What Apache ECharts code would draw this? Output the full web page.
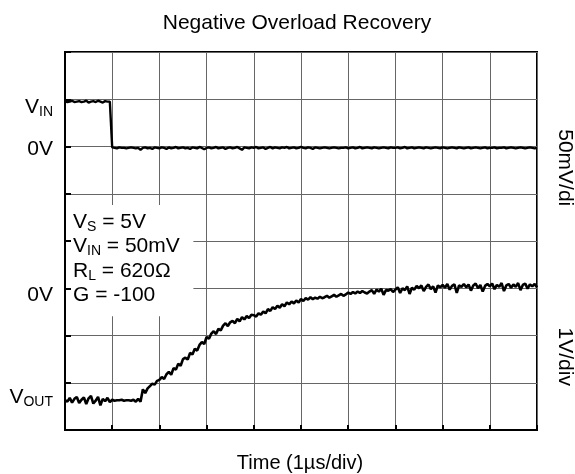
<!DOCTYPE html>
<html><head><meta charset="utf-8">
<script src="https://cdn.jsdelivr.net/npm/echarts@6/dist/echarts.min.js"></script>
<style>html,body{margin:0;padding:0;background:#fff}#c{width:575px;height:474px}</style>
</head><body><div id="c"></div>
<script>
// ---- data (units: scope divisions) ----
const titleText = 'Negative Overload Recovery';
const xAxisTitle = 'Time (1µs/div)';
const sampleStepDiv = 0.05;          // scope sample interval, in time divisions
const vinTrace = [
  6.96,6.94,6.95,6.97,6.94,6.95,6.96,6.94,6.95,6.97,6.93,6.95,6.96,6.94,6.97,6.95,6.93,6.96,6.95,6.95,
  5.98,
  5.97,5.96,5.98,5.97,5.97,5.96,5.97,5.98,5.97,5.96,
  5.97,5.93,5.97,5.98,5.96,5.97,5.95,5.98,5.97,5.96,
  5.98,5.97,5.95,5.98,5.96,5.97,5.99,5.96,5.97,5.98,
  5.96,5.97,5.95,5.98,5.97,5.96,5.99,5.97,5.94,5.97,
  5.98,5.96,5.97,5.99,5.96,5.97,5.98,5.95,5.97,5.98,
  5.96,5.97,5.99,5.96,5.93,5.98,5.97,5.96,5.98,5.97,
  5.99,5.96,5.97,5.98,5.95,5.97,5.99,5.96,5.98,5.97,
  5.96,5.98,5.97,5.99,5.96,5.97,5.98,5.96,5.97,5.99,
  5.97,5.96,5.98,5.97,5.95,5.98,5.97,5.96,5.97,5.98,
  5.97,5.96,5.97,5.98,5.97,5.96,5.97,5.97,5.98,5.96,
  5.97,5.98,5.96,5.97,5.99,5.96,5.97,5.98,5.97,5.96,
  5.98,5.97,5.96,5.97,5.98,5.97,5.96,5.98,5.97,5.97,
  5.98,5.96,5.97,5.99,5.96,5.97,5.98,5.96,5.97,5.98,
  5.97,5.96,5.98,5.97,5.96,5.97,5.98,5.97,5.96,5.98,
  5.97,5.96,5.97,5.98,5.97,5.96,5.98,5.97,5.96,5.97,
  5.98,5.96,5.97,5.98,5.97,5.96,5.97,5.98,5.96,5.97,
  5.97,5.98,5.96,5.97,5.97,5.98,5.96,5.97,5.98,5.97,
  5.96,5.97,5.98,5.97,5.96,5.97,5.98,5.97,5.96,5.97
];
const voutTrace = [
  0.63,0.60,0.68,0.58,0.66,0.70,0.57,0.64,0.69,0.55,
  0.67,0.72,0.56,0.62,0.70,0.52,0.66,0.61,0.68,0.59,
  0.64,0.62,0.63,0.63,0.64,0.62,0.63,0.63,0.62,0.64,
  0.60,0.66,0.60,0.86,0.78,0.88,0.93,0.98,0.96,1.04,
  1.06,1.12,1.08,1.18,1.23,1.17,1.31,1.28,1.40,1.36,
  1.50,1.53,1.49,1.63,1.60,1.72,1.68,1.80,1.86,1.82,
  1.97,1.93,2.04,2.09,2.03,2.14,2.11,2.21,2.26,2.20,
  2.28,2.31,2.26,2.35,2.30,2.39,2.34,2.41,2.37,2.44,
  2.43,2.40,2.47,2.44,2.51,2.47,2.56,2.52,2.60,2.56,
  2.63,2.59,2.66,2.62,2.70,2.66,2.72,2.68,2.74,2.70,
  2.77,2.73,2.79,2.76,2.81,2.77,2.80,2.78,2.82,2.79,
  2.81,2.84,2.80,2.83,2.86,2.82,2.85,2.88,2.84,2.87,
  2.91,2.88,2.92,2.89,2.93,2.90,2.94,2.91,2.89,2.93,
  2.96,2.88,2.97,2.93,2.99,2.86,2.96,2.95,2.98,2.92,
  2.97,3.02,2.90,3.00,2.96,3.04,2.88,3.01,2.97,3.05,
  3.00,3.06,2.94,3.03,3.08,2.98,3.04,2.91,3.06,3.02,
  3.07,3.01,3.09,2.97,3.05,3.08,2.90,3.06,3.03,3.09,
  3.02,3.08,2.95,3.06,3.10,3.00,3.07,2.93,3.05,3.09,
  3.04,3.10,2.98,3.07,3.03,3.11,2.94,3.06,3.09,3.01,
  3.08,3.03,3.11,2.96,3.07,3.10,2.99,3.08,3.04,3.09,
  3.02
];
const levelLabelMain = ['V', '0V', '0V', 'V'];
const levelLabelSub  = ['IN', '', '', 'OUT'];
const levelLabelY    = [6.84, 5.94, 2.86, 0.69];
const scaleLabels    = ['50mV/di', '1V/div'];
const scaleLabelY    = [5.55, 1.55];
const condMain = ['V', 'V', 'R', 'G'];
const condSub  = ['S', 'IN', 'L', ''];
const condRest = [' = 5V', ' = 50mV', ' = 620Ω', ' = -100'];

// ---- chart ----
const FONT = '"Liberation Sans", Arial, Helvetica, sans-serif';
const chart = echarts.init(document.getElementById('c'), null, {renderer: 'canvas'});
const G = {left: 65, right: 38, top: 52, bottom: 44};
const option = {
  animation: false,
  backgroundColor: '#fff',
  grid: {left: G.left, right: G.right, top: G.top, bottom: G.bottom, show: true,
         borderColor: '#000', borderWidth: 2, backgroundColor: 'transparent'},
  xAxis: {type: 'value', min: 0, max: 10, interval: 1,
    axisLine: {show: true, onZero: false, lineStyle: {color: '#000', width: 2}},
    axisTick: {show: true, inside: true, length: 5, lineStyle: {color: '#000', width: 2}},
    axisLabel: {show: false},
    splitLine: {show: true, lineStyle: {color: '#666', width: 1}}},
  yAxis: {type: 'value', min: 0, max: 8, interval: 1,
    axisLine: {show: true, onZero: false, lineStyle: {color: '#000', width: 2}},
    axisTick: {show: true, inside: true, length: 6, lineStyle: {color: '#000', width: 2}},
    axisLabel: {show: false},
    splitLine: {show: true, lineStyle: {color: '#666', width: 1}}},
  series: [
    {type: 'line', data: vinTrace.map((v, i) => [i * sampleStepDiv, v]), showSymbol: false,
     lineStyle: {color: '#000', width: 2.4}, z: 5},
    {type: 'line', data: voutTrace.map((v, i) => [i * sampleStepDiv, v]), showSymbol: false,
     lineStyle: {color: '#000', width: 2.6}, z: 5}
  ]
};
chart.setOption(option);

const W = 575, H = 474;
const px = (x, y) => chart.convertToPixel({gridIndex: 0}, [x, y]);
const gridRight = W - G.right, gridBottom = H - G.bottom;
const rich = {
  m: {fontSize: 21, fontFamily: FONT, color: '#000', lineHeight: 24},
  s: {fontSize: 14, fontFamily: FONT, color: '#000', lineHeight: 14, verticalAlign: 'bottom'}
};
const gfx = [];
// title
gfx.push({type: 'text', x: (G.left + gridRight) / 2 - 4, y: 23, z: 100,
  style: {text: titleText, font: '21px ' + FONT, fill: '#000', align: 'center', verticalAlign: 'middle'}});
// x axis title
gfx.push({type: 'text', x: (G.left + gridRight) / 2 - 1, y: 463, z: 100,
  style: {text: xAxisTitle, font: '20px ' + FONT, fill: '#000', align: 'center', verticalAlign: 'middle'}});
// level labels on the left
levelLabelMain.forEach((m, i) => {
  const p = px(0, levelLabelY[i]);
  const t = '{m|' + m + '}' + (levelLabelSub[i] ? '{s|' + levelLabelSub[i] + '}' : '');
  gfx.push({type: 'text', x: G.left - 12, y: p[1], z: 100,
    style: {text: t, rich: rich, align: 'right', verticalAlign: 'middle'}});
});
// scale labels on the right (rotated)
scaleLabels.forEach((s, i) => {
  const p = px(10, scaleLabelY[i]);
  gfx.push({type: 'text', x: gridRight + 28, y: p[1], rotation: -Math.PI / 2, z: 100,
    style: {text: s, font: '21px ' + FONT, fill: '#000', align: 'center', verticalAlign: 'middle'}});
});
// conditions box
const boxTL = px(0, 4.76), boxBR = px(2.72, 2.41);
gfx.push({type: 'rect', z: 90, shape: {x: G.left + 6, y: boxTL[1], width: boxBR[0] - G.left - 6, height: boxBR[1] - boxTL[1]},
  style: {fill: '#fff'}});
condMain.forEach((m, i) => {
  const t = '{m|' + m + '}' + (condSub[i] ? '{s|' + condSub[i] + '}' : '') + '{m|' + condRest[i] + '}';
  gfx.push({type: 'text', x: G.left + 8, y: boxTL[1] + 17 + i * 24.4, z: 100,
    style: {text: t, rich: rich, align: 'left', verticalAlign: 'middle'}});
});
chart.setOption({graphic: {elements: gfx}});
</script>
</body></html>
